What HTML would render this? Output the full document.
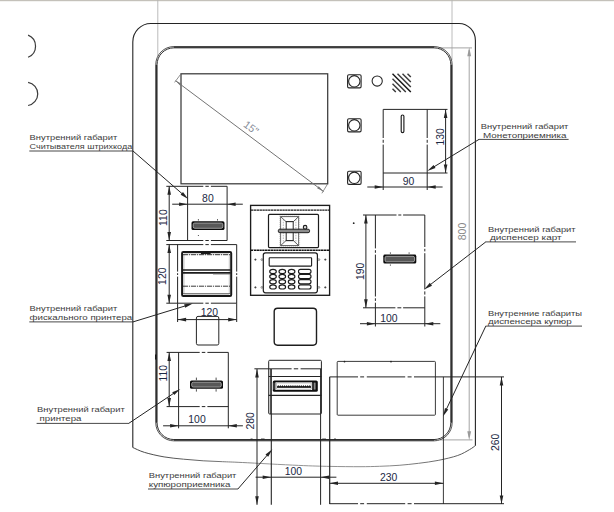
<!DOCTYPE html>
<html lang="ru">
<head>
<meta charset="utf-8">
<title>Внутренние габариты</title>
<style>
html,body{margin:0;padding:0;background:#fff;}
body{width:614px;height:512px;overflow:hidden;font-family:'Liberation Sans', sans-serif;}
svg{display:block;font-family:'Liberation Sans', sans-serif;}
</style>
</head>
<body>
<svg width="614" height="512" viewBox="0 0 614 512">
<rect x="0" y="0" width="614" height="512" fill="#fff"/>
<rect x="0" y="0" width="614" height="1.2" fill="#c4c1ba"/>
<path d="M28.1,35.1 A12,12 0 0 1 28.1,57.3" fill="none" stroke="#3c3c3c" stroke-width="1.2"/>
<path d="M28.1,82.3 A11.8,11.8 0 0 1 28.1,105.5" fill="none" stroke="#3c3c3c" stroke-width="1.2"/>
<line x1="157.8" y1="0" x2="157.8" y2="56" stroke="#b4b4b4" stroke-width="0.9"/>
<line x1="452" y1="0" x2="452" y2="60" stroke="#b4b4b4" stroke-width="0.9"/>
<line x1="440" y1="47.9" x2="472" y2="47.9" stroke="#9a9a9a" stroke-width="0.9"/>
<line x1="440" y1="439.9" x2="472.5" y2="439.9" stroke="#9a9a9a" stroke-width="0.9"/>
<line x1="469.2" y1="50" x2="469.2" y2="437" stroke="#9a9a9a" stroke-width="0.9"/>
<polygon points="469.2,47.2 471.1,56.2 467.3,56.2" fill="#9a9a9a"/>
<polygon points="469.2,440.2 467.3,431.2 471.1,431.2" fill="#9a9a9a"/>
<text x="462.6" y="231.5" font-size="10.5" fill="#8a8a8a" text-anchor="middle" transform="rotate(-90 462.6 231.5)" dy="3.6">800</text>
<path d="M132.8,447.5 L132.8,42 A18,18.5 0 0 1 150.8,23.5 L459,23.5 A16.4,17 0 0 1 475.4,40.5 L475.4,445.7" fill="none" stroke="#242424" stroke-width="1.1"/>
<linearGradient id="bg" gradientUnits="userSpaceOnUse" x1="132" y1="0" x2="476" y2="0"><stop offset="0" stop-color="#2c2c2c"/><stop offset="0.22" stop-color="#5a5a5a"/><stop offset="0.38" stop-color="#8c8c8c"/><stop offset="0.72" stop-color="#808080"/><stop offset="0.9" stop-color="#5a5a5a"/><stop offset="1" stop-color="#3a3a3a"/></linearGradient>
<path d="M132.8,447.5 C134.75,448.32 139.28,450.83 144.5,452.4 C149.72,453.97 157.58,455.77 164.1,456.9 C170.62,458.03 177.08,458.55 183.6,459.2 C190.12,459.85 196.68,460.38 203.2,460.8 C209.72,461.22 216.18,461.42 222.7,461.7 C229.22,461.98 229.65,461.88 242.3,462.5 C254.95,463.12 283.98,464.75 298.6,465.4 C313.22,466.05 319.77,466.18 330,466.4 C340.23,466.62 351.75,466.72 360,466.7 C368.25,466.68 372.98,466.53 379.5,466.3 C386.02,466.07 392.58,465.8 399.1,465.3 C405.62,464.8 412.08,464.12 418.6,463.3 C425.12,462.48 431.68,461.7 438.2,460.4 C444.72,459.1 452.5,457.28 457.7,455.5 C462.9,453.72 466.47,451.33 469.4,449.7 C472.33,448.07 474.32,446.37 475.3,445.7" fill="none" stroke="url(#bg)" stroke-width="0.9"/>
<line x1="173.9" y1="47.2" x2="434" y2="47.2" stroke="#404040" stroke-width="1.3"/>
<line x1="173.9" y1="440.2" x2="434" y2="440.2" stroke="#404040" stroke-width="1.3"/>
<line x1="156.4" y1="64.7" x2="156.4" y2="422.7" stroke="#404040" stroke-width="1.3"/>
<line x1="451.5" y1="64.7" x2="451.5" y2="422.7" stroke="#404040" stroke-width="1.3"/>
<path d="M173.9,46.55 L434,46.55 A18.15,18.15 0 0 1 452.15,64.7 L452.15,422.7 A18.15,18.15 0 0 1 434,440.85 L173.9,440.85 A18.15,18.15 0 0 1 155.75,422.7 L155.75,64.7 A18.15,18.15 0 0 1 173.9,46.55 Z" fill="none" stroke="#333" stroke-width="0.85"/>
<path d="M173.9,47.85 L434,47.85 A16.85,16.85 0 0 1 450.85,64.7 L450.85,422.7 A16.85,16.85 0 0 1 434,439.55 L173.9,439.55 A16.85,16.85 0 0 1 157.05,422.7 L157.05,64.7 A16.85,16.85 0 0 1 173.9,47.85 Z" fill="none" stroke="#1c1c1c" stroke-width="0.9"/>
<line x1="250.6" y1="439" x2="252.6" y2="439" stroke="#222" stroke-width="0.8"/>
<line x1="261" y1="439" x2="264.6" y2="439" stroke="#222" stroke-width="0.8"/>
<line x1="322.2" y1="439" x2="326" y2="439" stroke="#222" stroke-width="0.8"/>
<line x1="334" y1="439" x2="336" y2="439" stroke="#222" stroke-width="0.8"/>
<line x1="155.7" y1="354.6" x2="155.7" y2="359.4" stroke="#111" stroke-width="1.2"/>
<rect x="181" y="73.8" width="146.7" height="110" rx="0" fill="none" stroke="#3a3a3a" stroke-width="1.25"/>
<line x1="175.5" y1="80.7" x2="323.6" y2="191.5" stroke="#747474" stroke-width="1.0"/>
<line x1="181" y1="73.8" x2="174.6" y2="82.4" stroke="#747474" stroke-width="0.8"/>
<line x1="327.7" y1="183.8" x2="321.9" y2="193.3" stroke="#747474" stroke-width="0.8"/>
<polygon points="175.7,80.85 182.08,84.01 180.52,86.09" fill="#747474"/>
<polygon points="323.5,191.4 317.12,188.24 318.68,186.16" fill="#747474"/>
<text x="251.2" y="127.7" font-size="10.5" fill="#848a96" text-anchor="middle" transform="rotate(36.8 251.2 127.7)" dy="3.6">15&quot;</text>
<rect x="347.6" y="74.7" width="13.5" height="13.2" rx="1.3" fill="none" stroke="#242424" stroke-width="1.1"/>
<circle cx="354.3" cy="81.3" r="5.7" fill="none" stroke="#242424" stroke-width="1.1"/>
<rect x="347.6" y="118.7" width="13.5" height="13.2" rx="1.3" fill="none" stroke="#242424" stroke-width="1.1"/>
<circle cx="354.3" cy="125.3" r="5.7" fill="none" stroke="#242424" stroke-width="1.1"/>
<rect x="347.6" y="171.2" width="13.5" height="13.2" rx="1.3" fill="none" stroke="#242424" stroke-width="1.1"/>
<circle cx="354.3" cy="177.8" r="5.7" fill="none" stroke="#242424" stroke-width="1.1"/>
<circle cx="377.2" cy="81.0" r="5.1" fill="none" stroke="#242424" stroke-width="1.05"/>
<line x1="392.5" y1="88.7" x2="395.8" y2="92" stroke="#3a3a3a" stroke-width="1.45"/>
<line x1="392.5" y1="83.7" x2="400.8" y2="92" stroke="#3a3a3a" stroke-width="1.45"/>
<line x1="392.5" y1="78.7" x2="405.8" y2="92" stroke="#3a3a3a" stroke-width="1.45"/>
<line x1="392.5" y1="73.7" x2="410.8" y2="92" stroke="#161616" stroke-width="1.45"/>
<line x1="397.5" y1="73.7" x2="410.8" y2="87" stroke="#3a3a3a" stroke-width="1.45"/>
<line x1="402.5" y1="73.7" x2="410.8" y2="82" stroke="#3a3a3a" stroke-width="1.45"/>
<line x1="407.5" y1="73.7" x2="410.8" y2="77" stroke="#3a3a3a" stroke-width="1.45"/>
<line x1="383.2" y1="109.4" x2="383.2" y2="138" stroke="#242424" stroke-width="1.0"/>
<line x1="383.2" y1="139.8" x2="383.2" y2="142.8" stroke="#242424" stroke-width="1.0"/>
<line x1="383.2" y1="144.6" x2="383.2" y2="173" stroke="#242424" stroke-width="1.0"/>
<line x1="427.2" y1="109.4" x2="427.2" y2="138" stroke="#242424" stroke-width="1.0"/>
<line x1="427.2" y1="139.8" x2="427.2" y2="142.8" stroke="#242424" stroke-width="1.0"/>
<line x1="427.2" y1="144.6" x2="427.2" y2="173" stroke="#242424" stroke-width="1.0"/>
<line x1="383.2" y1="109.4" x2="447.5" y2="109.4" stroke="#242424" stroke-width="1.0"/>
<line x1="383.2" y1="173" x2="447.5" y2="173" stroke="#242424" stroke-width="1.0"/>
<line x1="383.2" y1="173" x2="383.2" y2="190" stroke="#242424" stroke-width="1.0"/>
<line x1="427.2" y1="173" x2="427.2" y2="190" stroke="#242424" stroke-width="1.0"/>
<rect x="401.2" y="115" width="2.7" height="17.6" rx="1.35" fill="none" stroke="#1c1c1c" stroke-width="1.15"/>
<line x1="445.6" y1="109.4" x2="445.6" y2="173" stroke="#242424" stroke-width="1.0"/>
<polygon points="445.6,109.4 447.4,117.9 443.8,117.9" fill="#242424"/>
<polygon points="445.6,173 443.8,164.5 447.4,164.5" fill="#242424"/>
<text x="439.9" y="136.9" font-size="10.4" fill="#1b2844" text-anchor="middle" transform="rotate(-90 439.9 136.9)" dy="3.6">130</text>
<line x1="367.3" y1="187" x2="442.6" y2="187" stroke="#242424" stroke-width="1.0"/>
<polygon points="383.2,187 374.7,188.8 374.7,185.2" fill="#242424"/>
<polygon points="427.2,187 435.7,185.2 435.7,188.8" fill="#242424"/>
<text x="408.6" y="185.1" font-size="10.4" fill="#1b2844" text-anchor="middle">90</text>
<line x1="187.6" y1="186.3" x2="187.6" y2="240.5" stroke="#242424" stroke-width="1.0"/>
<line x1="227.1" y1="186.3" x2="227.1" y2="240.5" stroke="#242424" stroke-width="1.0"/>
<line x1="166.3" y1="186.3" x2="203.3" y2="186.3" stroke="#242424" stroke-width="1.0"/>
<line x1="205.4" y1="186.3" x2="208.8" y2="186.3" stroke="#242424" stroke-width="1.0"/>
<line x1="210.9" y1="186.3" x2="227.1" y2="186.3" stroke="#242424" stroke-width="1.0"/>
<line x1="166.3" y1="240.5" x2="203.3" y2="240.5" stroke="#242424" stroke-width="1.0"/>
<line x1="205.4" y1="240.5" x2="208.8" y2="240.5" stroke="#242424" stroke-width="1.0"/>
<line x1="210.9" y1="240.5" x2="227.1" y2="240.5" stroke="#242424" stroke-width="1.0"/>
<line x1="169.2" y1="186.3" x2="169.2" y2="240.5" stroke="#242424" stroke-width="1.0"/>
<polygon points="169.2,186.3 171,194.8 167.4,194.8" fill="#242424"/>
<polygon points="169.2,240.5 167.4,232 171,232" fill="#242424"/>
<text x="163" y="217.6" font-size="10.4" fill="#1b2844" text-anchor="middle" transform="rotate(-90 163 217.6)" dy="3.6">110</text>
<line x1="172.2" y1="204.2" x2="242.8" y2="204.2" stroke="#242424" stroke-width="1.0"/>
<polygon points="187.6,204.2 179.1,206 179.1,202.4" fill="#242424"/>
<polygon points="227.1,204.2 235.6,202.4 235.6,206" fill="#242424"/>
<text x="207.9" y="201.6" font-size="10.4" fill="#1b2844" text-anchor="middle">80</text>
<rect x="191.5" y="221.3" width="33" height="8.7" rx="1.6" fill="#0c0c0c" stroke="none" stroke-width="0"/>
<rect x="193.2" y="223" width="29.6" height="5.3" rx="1.6" fill="#585858" stroke="#c8c8c8" stroke-width="0.7"/>
<line x1="198.4" y1="219" x2="198.4" y2="220.6" stroke="#242424" stroke-width="0.7"/>
<line x1="217.5" y1="219" x2="217.5" y2="220.6" stroke="#242424" stroke-width="0.7"/>
<line x1="198.4" y1="235" x2="198.4" y2="236" stroke="#242424" stroke-width="0.8"/>
<line x1="177.6" y1="244.6" x2="177.6" y2="271.6" stroke="#242424" stroke-width="1.0"/>
<line x1="177.6" y1="273.2" x2="177.6" y2="275" stroke="#242424" stroke-width="1.0"/>
<line x1="177.6" y1="276.6" x2="177.6" y2="303.2" stroke="#242424" stroke-width="1.0"/>
<line x1="236.7" y1="244.6" x2="236.7" y2="271.6" stroke="#242424" stroke-width="1.0"/>
<line x1="236.7" y1="273.2" x2="236.7" y2="275" stroke="#242424" stroke-width="1.0"/>
<line x1="236.7" y1="276.6" x2="236.7" y2="303.2" stroke="#242424" stroke-width="1.0"/>
<line x1="166.3" y1="244.6" x2="203.3" y2="244.6" stroke="#242424" stroke-width="1.0"/>
<line x1="205.4" y1="244.6" x2="208.8" y2="244.6" stroke="#242424" stroke-width="1.0"/>
<line x1="210.9" y1="244.6" x2="236.7" y2="244.6" stroke="#242424" stroke-width="1.0"/>
<line x1="166.3" y1="303.2" x2="203.3" y2="303.2" stroke="#242424" stroke-width="1.0"/>
<line x1="205.4" y1="303.2" x2="208.8" y2="303.2" stroke="#242424" stroke-width="1.0"/>
<line x1="210.9" y1="303.2" x2="236.7" y2="303.2" stroke="#242424" stroke-width="1.0"/>
<line x1="169.2" y1="244.6" x2="169.2" y2="303.2" stroke="#242424" stroke-width="1.0"/>
<polygon points="169.2,244.6 171,253.1 167.4,253.1" fill="#242424"/>
<polygon points="169.2,303.2 167.4,294.7 171,294.7" fill="#242424"/>
<text x="162.8" y="276.2" font-size="10.4" fill="#1b2844" text-anchor="middle" transform="rotate(-90 162.8 276.2)" dy="3.6">120</text>
<rect x="182.1" y="252" width="49.1" height="44" rx="1.2" fill="none" stroke="#181818" stroke-width="2.0"/>
<rect x="184" y="253.8" width="45.3" height="40.4" rx="0.6" fill="none" stroke="#888" stroke-width="0.5"/>
<line x1="183" y1="254.7" x2="230" y2="254.7" stroke="#222" stroke-width="0.9" stroke-dasharray="5 0.9 1.2 0.9"/>
<line x1="201" y1="253.4" x2="210.6" y2="253.4" stroke="#1a1a1a" stroke-width="1.4"/>
<line x1="182.5" y1="270" x2="230.6" y2="270" stroke="#1c1c1c" stroke-width="1.3"/>
<line x1="182.5" y1="272.8" x2="230.6" y2="272.8" stroke="#1c1c1c" stroke-width="1.8"/>
<line x1="213" y1="274.2" x2="230" y2="274.2" stroke="#666" stroke-width="0.6"/>
<line x1="183" y1="286.2" x2="230" y2="286.2" stroke="#222" stroke-width="0.9" stroke-dasharray="5 0.9 1.2 0.9"/>
<line x1="183" y1="293.6" x2="230" y2="293.6" stroke="#444" stroke-width="0.7"/>
<line x1="177.6" y1="303.2" x2="177.6" y2="322" stroke="#242424" stroke-width="1.0"/>
<line x1="236.7" y1="303.2" x2="236.7" y2="322" stroke="#242424" stroke-width="1.0"/>
<line x1="177.6" y1="319.6" x2="236.7" y2="319.6" stroke="#242424" stroke-width="1.0"/>
<polygon points="177.6,319.6 186.1,317.8 186.1,321.4" fill="#242424"/>
<polygon points="236.7,319.6 228.2,321.4 228.2,317.8" fill="#242424"/>
<rect x="196.4" y="316.4" width="22.4" height="28.6" rx="1.6" fill="none" stroke="#242424" stroke-width="1.0"/>
<text x="209.4" y="316.3" font-size="10.4" fill="#1b2844" text-anchor="middle">120</text>
<line x1="178.6" y1="352.4" x2="178.6" y2="428.3" stroke="#242424" stroke-width="1.0"/>
<line x1="228.3" y1="352.4" x2="228.3" y2="428.3" stroke="#242424" stroke-width="1.0"/>
<line x1="166.6" y1="352.4" x2="199.7" y2="352.4" stroke="#242424" stroke-width="1.0"/>
<line x1="201.8" y1="352.4" x2="205.3" y2="352.4" stroke="#242424" stroke-width="1.0"/>
<line x1="207.4" y1="352.4" x2="228.3" y2="352.4" stroke="#242424" stroke-width="1.0"/>
<line x1="166.6" y1="406.6" x2="199.7" y2="406.6" stroke="#242424" stroke-width="1.0"/>
<line x1="201.8" y1="406.6" x2="205.3" y2="406.6" stroke="#242424" stroke-width="1.0"/>
<line x1="207.4" y1="406.6" x2="228.3" y2="406.6" stroke="#242424" stroke-width="1.0"/>
<line x1="169.2" y1="352.4" x2="169.2" y2="406.6" stroke="#242424" stroke-width="1.0"/>
<polygon points="169.2,352.4 171,360.9 167.4,360.9" fill="#242424"/>
<polygon points="169.2,406.6 167.4,398.1 171,398.1" fill="#242424"/>
<text x="163.5" y="373.2" font-size="10.4" fill="#1b2844" text-anchor="middle" transform="rotate(-90 163.5 373.2)" dy="3.6">110</text>
<rect x="190" y="380.5" width="33" height="8.3" rx="1.6" fill="#0c0c0c" stroke="none" stroke-width="0"/>
<rect x="191.7" y="382.2" width="29.6" height="4.9" rx="1.6" fill="#585858" stroke="#c8c8c8" stroke-width="0.7"/>
<line x1="196.4" y1="377.6" x2="196.4" y2="380.2" stroke="#242424" stroke-width="0.8"/>
<line x1="196.4" y1="389.2" x2="196.4" y2="391.6" stroke="#242424" stroke-width="0.8"/>
<line x1="216.1" y1="377.6" x2="216.1" y2="380.2" stroke="#242424" stroke-width="0.8"/>
<line x1="216.1" y1="389.2" x2="216.1" y2="391.6" stroke="#242424" stroke-width="0.8"/>
<line x1="163.1" y1="425.8" x2="242.9" y2="425.8" stroke="#242424" stroke-width="1.0"/>
<polygon points="178.6,425.8 170.1,427.6 170.1,424" fill="#242424"/>
<polygon points="228.3,425.8 236.8,424 236.8,427.6" fill="#242424"/>
<text x="197" y="423.3" font-size="10.4" fill="#1b2844" text-anchor="middle">100</text>
<rect x="250.6" y="205.4" width="79" height="89.9" rx="0" fill="none" stroke="#1c1c1c" stroke-width="1.35"/>
<line x1="251" y1="210.2" x2="329" y2="210.2" stroke="#1c1c1c" stroke-width="1.2" stroke-dasharray="2.4 0.45"/>
<line x1="251" y1="250.3" x2="329" y2="250.3" stroke="#141414" stroke-width="1.5" stroke-dasharray="2.4 0.4"/>
<rect x="268.5" y="214.4" width="50" height="33.2" rx="1" fill="none" stroke="#1c1c1c" stroke-width="1.2"/>
<path d="M279.6,215.8 L299.6,215.8 L299.6,246.4 L279.6,246.4 Z" fill="none" stroke="#999" stroke-width="0.4" stroke-dasharray="1.2 0.8"/>
<path d="M280.6,216.6 L298.6,216.6 L293.4,221.6 L286,221.6 Z" fill="none" stroke="#333" stroke-width="0.8"/>
<path d="M280.6,245.6 L298.6,245.6 L293.4,240.6 L286,240.6 Z" fill="none" stroke="#333" stroke-width="0.8"/>
<line x1="280.6" y1="216.6" x2="280.6" y2="245.6" stroke="#444" stroke-width="0.8"/>
<line x1="298.6" y1="216.6" x2="298.6" y2="245.6" stroke="#444" stroke-width="0.8"/>
<line x1="283.3" y1="219.2" x2="283.3" y2="243" stroke="#777" stroke-width="0.5" stroke-dasharray="1.6 1"/>
<line x1="295.9" y1="219.2" x2="295.9" y2="243" stroke="#777" stroke-width="0.5" stroke-dasharray="1.6 1"/>
<rect x="286.2" y="221.6" width="7" height="19" rx="0" fill="none" stroke="#2a2a2a" stroke-width="1.0"/>
<rect x="278.3" y="229.2" width="31.3" height="3.5" rx="1.5" fill="#8c8c8c" stroke="#1c1c1c" stroke-width="1.0"/>
<circle cx="305.1" cy="227.2" r="1.8" fill="#d8d8d8" stroke="#1c1c1c" stroke-width="1.1"/>
<rect x="263.3" y="252.8" width="54.1" height="40" rx="2.2" fill="none" stroke="#1c1c1c" stroke-width="1.2"/>
<rect x="269.2" y="257.7" width="42.4" height="8.4" rx="0.6" fill="none" stroke="#1c1c1c" stroke-width="1.1"/>
<ellipse cx="273.0" cy="271.4" rx="3.3" ry="2.1" fill="none" stroke="#1c1c1c" stroke-width="1.15"/>
<ellipse cx="282.3" cy="271.4" rx="3.3" ry="2.1" fill="none" stroke="#1c1c1c" stroke-width="1.15"/>
<ellipse cx="291.6" cy="271.4" rx="3.3" ry="2.1" fill="none" stroke="#1c1c1c" stroke-width="1.15"/>
<rect x="298.5" y="269.3" width="12.5" height="4.2" rx="2.0" fill="none" stroke="#1c1c1c" stroke-width="1.15"/>
<ellipse cx="273.0" cy="276.5" rx="3.3" ry="2.1" fill="none" stroke="#1c1c1c" stroke-width="1.15"/>
<ellipse cx="282.3" cy="276.5" rx="3.3" ry="2.1" fill="none" stroke="#1c1c1c" stroke-width="1.15"/>
<ellipse cx="291.6" cy="276.5" rx="3.3" ry="2.1" fill="none" stroke="#1c1c1c" stroke-width="1.15"/>
<rect x="298.5" y="274.4" width="12.5" height="4.2" rx="2.0" fill="none" stroke="#1c1c1c" stroke-width="1.15"/>
<ellipse cx="273.0" cy="281.7" rx="3.3" ry="2.1" fill="none" stroke="#1c1c1c" stroke-width="1.15"/>
<ellipse cx="282.3" cy="281.7" rx="3.3" ry="2.1" fill="none" stroke="#1c1c1c" stroke-width="1.15"/>
<ellipse cx="291.6" cy="281.7" rx="3.3" ry="2.1" fill="none" stroke="#1c1c1c" stroke-width="1.15"/>
<rect x="298.5" y="279.6" width="12.5" height="4.2" rx="2.0" fill="none" stroke="#1c1c1c" stroke-width="1.15"/>
<ellipse cx="273.0" cy="286.9" rx="3.3" ry="2.1" fill="none" stroke="#1c1c1c" stroke-width="1.15"/>
<ellipse cx="282.3" cy="286.9" rx="3.3" ry="2.1" fill="none" stroke="#1c1c1c" stroke-width="1.15"/>
<ellipse cx="291.6" cy="286.9" rx="3.3" ry="2.1" fill="none" stroke="#1c1c1c" stroke-width="1.15"/>
<rect x="298.5" y="284.8" width="12.5" height="4.2" rx="2.0" fill="none" stroke="#1c1c1c" stroke-width="1.15"/>
<line x1="254.3" y1="259.6" x2="256.5" y2="259.6" stroke="#333" stroke-width="0.8"/>
<line x1="255.4" y1="258.5" x2="255.4" y2="260.7" stroke="#333" stroke-width="0.8"/>
<line x1="324.2" y1="259.6" x2="326.4" y2="259.6" stroke="#333" stroke-width="0.8"/>
<line x1="325.3" y1="258.5" x2="325.3" y2="260.7" stroke="#333" stroke-width="0.8"/>
<circle cx="261.9" cy="259.6" r="0.9" fill="none" stroke="#444" stroke-width="0.6"/>
<circle cx="318.9" cy="259.6" r="0.9" fill="none" stroke="#444" stroke-width="0.6"/>
<line x1="254.3" y1="287.4" x2="256.5" y2="287.4" stroke="#333" stroke-width="0.8"/>
<line x1="255.4" y1="286.3" x2="255.4" y2="288.5" stroke="#333" stroke-width="0.8"/>
<line x1="324.2" y1="287.4" x2="326.4" y2="287.4" stroke="#333" stroke-width="0.8"/>
<line x1="325.3" y1="286.3" x2="325.3" y2="288.5" stroke="#333" stroke-width="0.8"/>
<circle cx="261.9" cy="287.4" r="0.9" fill="none" stroke="#444" stroke-width="0.6"/>
<circle cx="318.9" cy="287.4" r="0.9" fill="none" stroke="#444" stroke-width="0.6"/>
<rect x="274.2" y="308.2" width="42.3" height="37" rx="3.4" fill="none" stroke="#1e1e1e" stroke-width="1.4"/>
<rect x="268.7" y="360.3" width="52.7" height="53.7" rx="1.0" fill="none" stroke="#242424" stroke-width="1.0"/>
<line x1="254.4" y1="368.8" x2="291.6" y2="368.8" stroke="#242424" stroke-width="1.0"/>
<line x1="293.8" y1="368.8" x2="298.2" y2="368.8" stroke="#242424" stroke-width="1.0"/>
<line x1="300.6" y1="368.8" x2="321.4" y2="368.8" stroke="#242424" stroke-width="1.0"/>
<line x1="268.7" y1="376.5" x2="321.4" y2="376.5" stroke="#242424" stroke-width="1.2"/>
<line x1="268.7" y1="395.4" x2="321.4" y2="395.4" stroke="#242424" stroke-width="1.2"/>
<line x1="270.4" y1="369" x2="270.4" y2="414" stroke="#242424" stroke-width="0.8"/>
<line x1="271.3" y1="369" x2="271.3" y2="504.8" stroke="#242424" stroke-width="1.1"/>
<line x1="320.6" y1="369" x2="320.6" y2="504.8" stroke="#242424" stroke-width="1.0"/>
<rect x="272.8" y="380.4" width="45" height="11.4" rx="1.6" fill="#0e0e0e" stroke="none" stroke-width="0"/>
<rect x="275.4" y="382.3" width="36.8" height="7.6" rx="0.5" fill="#fff" stroke="none" stroke-width="0"/>
<rect x="276.4" y="382.9" width="34.8" height="6.4" rx="0.3" fill="none" stroke="#777" stroke-width="0.5"/>
<path d="M277.2,387.0 l1.05,-1.5 l1.05,1.5 l1.05,-1.5 l1.05,1.5 l1.05,-1.5 l1.05,1.5 l1.05,-1.5 l1.05,1.5 l1.05,-1.5 l1.05,1.5 l1.05,-1.5 l1.05,1.5 l1.05,-1.5 l1.05,1.5 l1.05,-1.5 l1.05,1.5 l1.05,-1.5 l1.05,1.5 l1.05,-1.5 l1.05,1.5 l1.05,-1.5 l1.05,1.5 l1.05,-1.5 l1.05,1.5 l1.05,-1.5 l1.05,1.5 l1.05,-1.5 l1.05,1.5 l1.05,-1.5 l1.05,1.5 l1.05,-1.5 l1.05,1.5 L277.2,387.0 Z" fill="#222" stroke="#111" stroke-width="0.6"/>
<line x1="277" y1="387.3" x2="311" y2="387.3" stroke="#111" stroke-width="1.1"/>
<rect x="313.7" y="382.6" width="1.9" height="7.0" fill="#8a8a8a"/>
<rect x="273.4" y="382.6" width="1.2" height="7.0" fill="#555"/>
<line x1="257" y1="369" x2="257" y2="504.8" stroke="#242424" stroke-width="1.0"/>
<polygon points="257,369 258.8,377.5 255.2,377.5" fill="#242424"/>
<polygon points="257,504.8 255.2,496.3 258.8,496.3" fill="#242424"/>
<text x="250.7" y="420.8" font-size="10.4" fill="#1b2844" text-anchor="middle" transform="rotate(-90 250.7 420.8)" dy="3.6">280</text>
<line x1="255.6" y1="477.2" x2="336.4" y2="477.2" stroke="#242424" stroke-width="1.0"/>
<polygon points="271.2,477.2 262.7,479 262.7,475.4" fill="#242424"/>
<polygon points="320.6,477.2 329.1,475.4 329.1,479" fill="#242424"/>
<text x="293.4" y="474.8" font-size="10.4" fill="#1b2844" text-anchor="middle">100</text>
<line x1="375.4" y1="215" x2="375.4" y2="248.4" stroke="#242424" stroke-width="1.0"/>
<line x1="375.4" y1="250.2" x2="375.4" y2="252.8" stroke="#242424" stroke-width="1.0"/>
<line x1="375.4" y1="254.6" x2="375.4" y2="296.5" stroke="#242424" stroke-width="1.0"/>
<line x1="375.4" y1="298.3" x2="375.4" y2="300.9" stroke="#242424" stroke-width="1.0"/>
<line x1="375.4" y1="302.7" x2="375.4" y2="326.5" stroke="#242424" stroke-width="1.0"/>
<line x1="424.8" y1="215" x2="424.8" y2="247" stroke="#242424" stroke-width="1.0"/>
<line x1="424.8" y1="248.8" x2="424.8" y2="251.4" stroke="#242424" stroke-width="1.0"/>
<line x1="424.8" y1="253.2" x2="424.8" y2="289.4" stroke="#242424" stroke-width="1.0"/>
<line x1="424.8" y1="291.4" x2="424.8" y2="294.6" stroke="#242424" stroke-width="1.0"/>
<line x1="424.8" y1="296.4" x2="424.8" y2="326.5" stroke="#242424" stroke-width="1.0"/>
<line x1="363" y1="215" x2="396.5" y2="215" stroke="#242424" stroke-width="1.0"/>
<line x1="398.3" y1="215" x2="401.3" y2="215" stroke="#242424" stroke-width="1.0"/>
<line x1="403.1" y1="215" x2="424.8" y2="215" stroke="#242424" stroke-width="1.0"/>
<line x1="363" y1="307.8" x2="395.4" y2="307.8" stroke="#242424" stroke-width="1.0"/>
<line x1="397.4" y1="307.8" x2="401.3" y2="307.8" stroke="#242424" stroke-width="1.0"/>
<line x1="403.1" y1="307.8" x2="424.8" y2="307.8" stroke="#242424" stroke-width="1.0"/>
<line x1="365.9" y1="215" x2="365.9" y2="307.8" stroke="#242424" stroke-width="1.0"/>
<polygon points="365.9,215 367.7,223.5 364.1,223.5" fill="#242424"/>
<polygon points="365.9,307.8 364.1,299.3 367.7,299.3" fill="#242424"/>
<text x="360.1" y="271.4" font-size="10.4" fill="#1b2844" text-anchor="middle" transform="rotate(-90 360.1 271.4)" dy="3.6">190</text>
<rect x="383.3" y="254.6" width="33" height="8.9" rx="1.6" fill="#0c0c0c" stroke="none" stroke-width="0"/>
<rect x="385" y="256.3" width="29.6" height="5.5" rx="1.6" fill="#585858" stroke="#c8c8c8" stroke-width="0.7"/>
<line x1="390.4" y1="252.3" x2="390.4" y2="253.9" stroke="#242424" stroke-width="0.7"/>
<line x1="409.1" y1="252.3" x2="409.1" y2="253.9" stroke="#242424" stroke-width="0.7"/>
<line x1="390.4" y1="264.4" x2="390.4" y2="265.8" stroke="#242424" stroke-width="0.7"/>
<line x1="360" y1="323.7" x2="440.3" y2="323.7" stroke="#242424" stroke-width="1.0"/>
<polygon points="375.4,323.7 366.9,325.5 366.9,321.9" fill="#242424"/>
<polygon points="424.8,323.7 433.3,321.9 433.3,325.5" fill="#242424"/>
<text x="388.9" y="321.7" font-size="10.4" fill="#1b2844" text-anchor="middle">100</text>
<circle cx="353.7" cy="223.2" r="0.9" fill="#222"/>
<rect x="337.2" y="361.4" width="98.2" height="53.8" rx="0.8" fill="none" stroke="#242424" stroke-width="0.9"/>
<circle cx="344.5" cy="361.6" r="0.9" fill="#222"/><circle cx="391.0" cy="361.6" r="0.9" fill="#222"/>
<line x1="329.5" y1="376.9" x2="358" y2="376.9" stroke="#242424" stroke-width="1.0"/>
<line x1="360.2" y1="376.9" x2="364.1" y2="376.9" stroke="#242424" stroke-width="1.0"/>
<line x1="366.8" y1="376.9" x2="405.2" y2="376.9" stroke="#242424" stroke-width="1.0"/>
<line x1="407.6" y1="376.9" x2="411.6" y2="376.9" stroke="#242424" stroke-width="1.0"/>
<line x1="414" y1="376.9" x2="504" y2="376.9" stroke="#242424" stroke-width="1.0"/>
<line x1="329.7" y1="376.9" x2="329.7" y2="504" stroke="#242424" stroke-width="1.2"/>
<line x1="443.4" y1="376.9" x2="443.4" y2="504" stroke="#242424" stroke-width="0.9"/>
<line x1="329.5" y1="503.7" x2="358" y2="503.7" stroke="#242424" stroke-width="1.0"/>
<line x1="360.2" y1="503.7" x2="364.1" y2="503.7" stroke="#242424" stroke-width="1.0"/>
<line x1="366.8" y1="503.7" x2="405.2" y2="503.7" stroke="#242424" stroke-width="1.0"/>
<line x1="407.6" y1="503.7" x2="411.6" y2="503.7" stroke="#242424" stroke-width="1.0"/>
<line x1="414" y1="503.7" x2="504" y2="503.7" stroke="#242424" stroke-width="1.0"/>
<line x1="329.5" y1="483.3" x2="443.4" y2="483.3" stroke="#242424" stroke-width="1.0"/>
<polygon points="329.5,483.3 338,481.5 338,485.1" fill="#242424"/>
<polygon points="443.4,483.3 434.9,485.1 434.9,481.5" fill="#242424"/>
<text x="388.6" y="481" font-size="10.4" fill="#1b2844" text-anchor="middle">230</text>
<line x1="501.5" y1="376.9" x2="501.5" y2="504" stroke="#242424" stroke-width="1.0"/>
<polygon points="501.5,376.9 503.3,385.4 499.7,385.4" fill="#242424"/>
<polygon points="501.5,504 499.7,495.5 503.3,495.5" fill="#242424"/>
<text x="495.7" y="442.3" font-size="10.4" fill="#1b2844" text-anchor="middle" transform="rotate(-90 495.7 442.3)" dy="3.6">260</text>
<text x="29.6" y="140" font-size="8.0" fill="#3c3c3c" text-anchor="start" textLength="87.6" lengthAdjust="spacingAndGlyphs">Внутренний габарит</text>
<text x="29.6" y="149.4" font-size="8.0" fill="#3c3c3c" text-anchor="start" textLength="102.6" lengthAdjust="spacingAndGlyphs">Считывателя штрихкода</text>
<line x1="29.3" y1="151" x2="133.2" y2="151" stroke="#333" stroke-width="0.9"/>
<line x1="133" y1="151" x2="183.67" y2="195.06" stroke="#242424" stroke-width="1.0"/>
<polygon points="188.2,199 180.6,194.78 182.97,192.06" fill="#242424"/>
<text x="29.6" y="310.6" font-size="8.0" fill="#3c3c3c" text-anchor="start" textLength="87.6" lengthAdjust="spacingAndGlyphs">Внутренний габарит</text>
<text x="29.6" y="319.5" font-size="8.0" fill="#3c3c3c" text-anchor="start" textLength="102.6" lengthAdjust="spacingAndGlyphs">фискального принтера</text>
<line x1="29.3" y1="321.9" x2="133.2" y2="321.9" stroke="#333" stroke-width="0.9"/>
<line x1="133" y1="321.9" x2="187.06" y2="305.36" stroke="#242424" stroke-width="1.0"/>
<polygon points="192.8,303.6 185.2,307.81 184.15,304.37" fill="#242424"/>
<text x="37.1" y="412.3" font-size="8.0" fill="#3c3c3c" text-anchor="start" textLength="87.6" lengthAdjust="spacingAndGlyphs">Внутренний габарит</text>
<text x="39.6" y="420.9" font-size="8.0" fill="#3c3c3c" text-anchor="start" textLength="41.9" lengthAdjust="spacingAndGlyphs">принтера</text>
<line x1="36.6" y1="423.4" x2="128.9" y2="423.4" stroke="#333" stroke-width="0.9"/>
<line x1="128.7" y1="423.4" x2="175.31" y2="392.23" stroke="#242424" stroke-width="1.0"/>
<polygon points="180.3,388.9 174.23,395.12 172.23,392.13" fill="#242424"/>
<text x="148.8" y="478.2" font-size="8.0" fill="#3c3c3c" text-anchor="start" textLength="87.6" lengthAdjust="spacingAndGlyphs">Внутренний габарит</text>
<text x="148.8" y="487.2" font-size="8.0" fill="#3c3c3c" text-anchor="start" textLength="81.6" lengthAdjust="spacingAndGlyphs">купюроприемника</text>
<line x1="148" y1="489" x2="238" y2="489" stroke="#333" stroke-width="0.9"/>
<line x1="237.9" y1="489" x2="268.47" y2="453.73" stroke="#242424" stroke-width="1.0"/>
<polygon points="272.4,449.2 268.19,456.8 265.47,454.44" fill="#242424"/>
<text x="480.8" y="128.8" font-size="8.0" fill="#3c3c3c" text-anchor="start" textLength="87.6" lengthAdjust="spacingAndGlyphs">Внутренний габарит</text>
<text x="483" y="137.6" font-size="8.0" fill="#3c3c3c" text-anchor="start" textLength="83.6" lengthAdjust="spacingAndGlyphs">Монетоприемника</text>
<line x1="478.8" y1="139.4" x2="568.6" y2="139.4" stroke="#333" stroke-width="0.9"/>
<line x1="479" y1="139.4" x2="432.42" y2="167.78" stroke="#242424" stroke-width="1.0"/>
<polygon points="427.3,170.9 433.62,164.94 435.5,168.01" fill="#242424"/>
<text x="488" y="231.8" font-size="8.0" fill="#3c3c3c" text-anchor="start" textLength="87.6" lengthAdjust="spacingAndGlyphs">Внутренний габарит</text>
<text x="490" y="240.1" font-size="8.0" fill="#3c3c3c" text-anchor="start" textLength="71.6" lengthAdjust="spacingAndGlyphs">диспенсер карт</text>
<line x1="485.6" y1="241.9" x2="576" y2="241.9" stroke="#333" stroke-width="0.9"/>
<line x1="485.8" y1="241.9" x2="428.95" y2="285.74" stroke="#242424" stroke-width="1.0"/>
<polygon points="424.2,289.4 429.83,282.78 432.03,285.63" fill="#242424"/>
<text x="488" y="315.8" font-size="8.0" fill="#3c3c3c" text-anchor="start" textLength="94" lengthAdjust="spacingAndGlyphs">Внутренние габариты</text>
<text x="488" y="324.1" font-size="8.0" fill="#3c3c3c" text-anchor="start" textLength="83.6" lengthAdjust="spacingAndGlyphs">диспенсера купюр</text>
<line x1="485.6" y1="326.1" x2="582" y2="326.1" stroke="#333" stroke-width="0.9"/>
<line x1="485.8" y1="326.1" x2="445.57" y2="410.98" stroke="#242424" stroke-width="1.0"/>
<polygon points="443,416.4 445.01,407.95 448.27,409.49" fill="#242424"/>
</svg>
</body>
</html>
